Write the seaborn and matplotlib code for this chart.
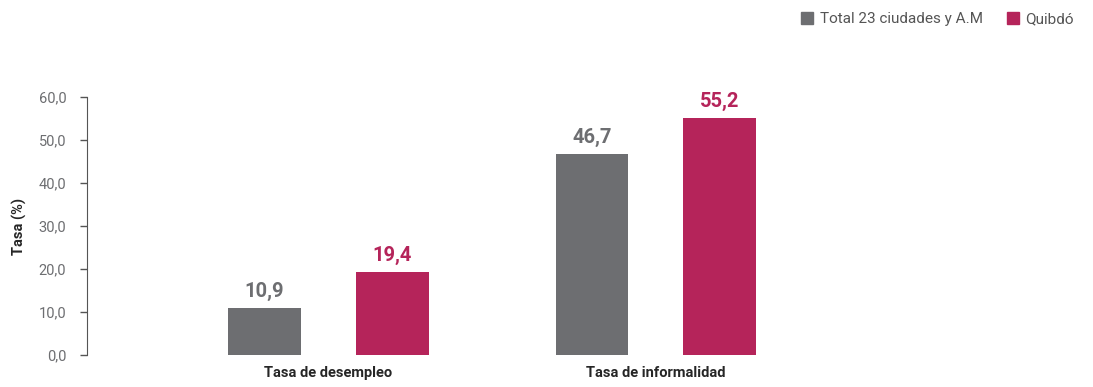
import seaborn as sns
import matplotlib.pyplot as plt
import pandas as pd

categories = ["Tasa de desempleo", "Tasa de informalidad"]
series = ["Total 23 ciudades y A.M", "Quibdó"]
total_values = [10.9, 46.7]
quibdo_values = [19.4, 55.2]
colors = ["#6d6e71", "#b5245a"]

df = pd.DataFrame({
    "categoria": categories * 2,
    "serie": [series[0]] * 2 + [series[1]] * 2,
    "valor": total_values + quibdo_values,
})

cond = ["Liberation Sans Narrow", "Roboto", "DejaVu Sans"]

sns.set_style("white")
plt.rcParams["font.family"] = ["Roboto", "DejaVu Sans"]
fig = plt.figure(figsize=(10.93, 3.87), dpi=100)
ax = fig.add_axes([0.0796, 0.083, 0.835, 0.666])

sns.barplot(data=df, x="categoria", y="valor", hue="serie", palette=colors,
            width=0.78, gap=0.43, ax=ax, legend=False, saturation=1, linewidth=0)

for container, col in zip(ax.containers, colors):
    for bar in container:
        h = bar.get_height()
        ax.text(bar.get_x() + bar.get_width() / 2, h + 1.6, f"{h:.1f}".replace(".", ","),
                ha="center", va="bottom", fontsize=14.5, fontweight="bold", color=col,
                family=cond)

ax.set_ylim(0, 60)
ax.set_xlim(-0.737, 2.05)
ax.set_yticks(range(0, 61, 10))
ax.set_yticklabels([f"{v:.1f}".replace(".", ",") for v in range(0, 61, 10)],
                   color="#6d6e71", fontsize=10.5)
ax.set_ylabel("Tasa (%)", fontsize=10.5, fontweight="bold", family=cond, labelpad=8)
ax.set_xlabel("")
for lbl in ax.get_xticklabels():
    lbl.set_fontweight("bold")
    lbl.set_family(cond)
    lbl.set_fontsize(10.5)
ax.tick_params(axis="y", length=5, width=1, color="#555555", left=True, pad=10)
ax.tick_params(axis="x", length=0, pad=8)
for s in ["top", "right", "bottom"]:
    ax.spines[s].set_visible(False)
ax.spines["left"].set_color("#555555")

handles = [plt.Rectangle((0, 0), 1, 1, color=c) for c in colors]
fig.legend(handles, series, loc="upper right", bbox_to_anchor=(0.995, 1.005), ncol=2,
           frameon=False, fontsize=11, handlelength=0.8, handleheight=0.8,
           handletextpad=0.4, columnspacing=1.6, labelcolor="#555555")

fig.savefig("out.png", dpi=100)
